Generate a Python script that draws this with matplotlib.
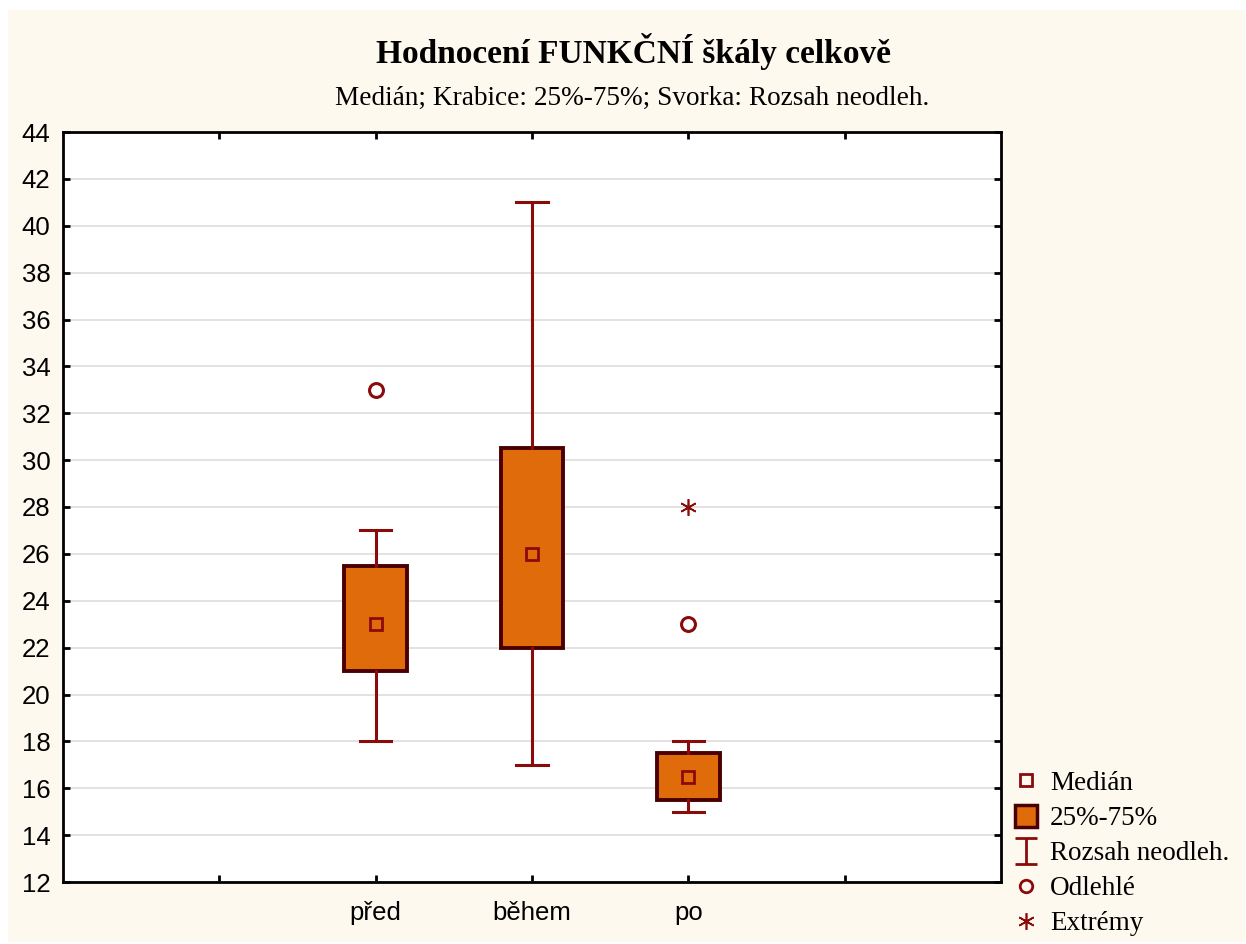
import numpy as np
import matplotlib
matplotlib.use("Agg")
import matplotlib.pyplot as plt
from matplotlib.lines import Line2D
from matplotlib.patches import Rectangle
from matplotlib.path import Path

# data
categories = ["před", "během", "po"]
medians = [23, 26, 16.5]
q1 = [21, 22, 15.5]
q3 = [25.5, 30.5, 17.5]
whis_lo = [18, 17, 15]
whis_hi = [27, 41, 18]
outliers = [[33], [], [23]]
extremes = [[], [], [28]]

# colours
cream = "#FEF9EE"
box_fill = "#E06B0B"
box_edge = "#4A0000"
dark_red = "#8B0A0A"

fig = plt.figure(figsize=(12.46, 9.44), dpi=100, facecolor="white")
# cream panel behind everything
fig.patches.append(Rectangle((8 / 1246, 2 / 944), 1237 / 1246, 932 / 944,
                             transform=fig.transFigure, facecolor=cream,
                             edgecolor="none", zorder=-10))

ax = fig.add_axes([63 / 1246, 62 / 944, 938 / 1246, 750 / 944])
ax.set_facecolor("white")

pos = [2, 3, 4]
stats = []
for i in range(len(categories)):
    stats.append({"med": medians[i], "q1": q1[i], "q3": q3[i],
                  "whislo": whis_lo[i], "whishi": whis_hi[i], "fliers": []})

ax.bxp(stats, positions=pos, widths=0.4, capwidths=0.2, patch_artist=True,
       showfliers=False,
       boxprops=dict(facecolor=box_fill, edgecolor=box_edge, linewidth=2.8),
       whiskerprops=dict(color=dark_red, linewidth=2.2),
       capprops=dict(color=dark_red, linewidth=2.2),
       medianprops=dict(linestyle="none"), zorder=3)

ax.plot(pos, medians, linestyle="none", marker="s", markersize=9,
        markerfacecolor="none", markeredgecolor=dark_red, markeredgewidth=2,
        zorder=5)
for p, vals in zip(pos, outliers):
    if vals:
        ax.plot([p] * len(vals), vals, linestyle="none", marker="o",
                markersize=10, markerfacecolor="none",
                markeredgecolor=dark_red, markeredgewidth=2.2, zorder=5)
for p, vals in zip(pos, extremes):
    if vals:
        ax.plot([p] * len(vals), vals, linestyle="none", marker=(6, 2, 0),
                markersize=12, color=dark_red, markeredgewidth=1.2, zorder=5)

ax.set_xlim(0, 6)
ax.set_ylim(12, 44)
ax.set_yticks(np.arange(12, 45, 2))
ax.set_xticks([1, 2, 3, 4, 5])
ax.set_xticklabels([""] + categories + [""])
ax.yaxis.grid(True, color="#DDDDDD", linewidth=1.2, zorder=0)
ax.set_axisbelow(True)
for s in ax.spines.values():
    s.set_linewidth(2.0)
    s.set_color("black")
ax.tick_params(direction="in", length=5, width=2, top=True, right=True,
               labelsize=18.5, colors="black")
ax.tick_params(axis="y", pad=9)
ax.tick_params(axis="x", pad=14)
for lab in ax.get_xticklabels() + ax.get_yticklabels():
    lab.set_family("Liberation Sans")

fig.text(634 / 1246, 1 - 52 / 944, "Hodnocení FUNKČNÍ škály celkově",
         ha="center", va="center", fontsize=24, fontweight="bold",
         family="Liberation Serif")
fig.text(632 / 1246, 1 - 98 / 944,
         "Medián; Krabice: 25%-75%; Svorka: Rozsah neodleh.",
         ha="center", va="center", fontsize=19.6, family="Liberation Serif")

# legend
bar_path = Path([(-0.8, 1), (0.8, 1), (0, 1), (0, -1), (-0.8, -1), (0.8, -1)],
                [Path.MOVETO, Path.LINETO, Path.MOVETO, Path.LINETO,
                 Path.MOVETO, Path.LINETO])
handles = [
    Line2D([], [], linestyle="none", marker="s", markersize=9,
           markerfacecolor="none", markeredgecolor=dark_red,
           markeredgewidth=2),
    Line2D([], [], linestyle="none", marker="s", markersize=16,
           markerfacecolor=box_fill, markeredgecolor=box_edge,
           markeredgewidth=2.5),
    Line2D([], [], linestyle="none", marker=bar_path, markersize=19,
           markeredgecolor=dark_red, markeredgewidth=2),
    Line2D([], [], linestyle="none", marker="o", markersize=9,
           markerfacecolor="none", markeredgecolor=dark_red,
           markeredgewidth=2),
    Line2D([], [], linestyle="none", marker=(6, 2, 0), markersize=12,
           color=dark_red, markeredgewidth=1.2),
]
labels = ["Medián", "25%-75%", "Rozsah neodleh.", "Odlehlé", "Extrémy"]
fig.legend(handles, labels, loc="lower left",
           bbox_to_anchor=(993 / 1246, -11 / 944), frameon=False,
           prop={"family": "Liberation Serif", "size": 19.5},
           handlelength=1.0, handletextpad=0.4, labelspacing=0.37,
           borderpad=0.2)

fig.savefig("out.png", dpi=100, facecolor="white")
